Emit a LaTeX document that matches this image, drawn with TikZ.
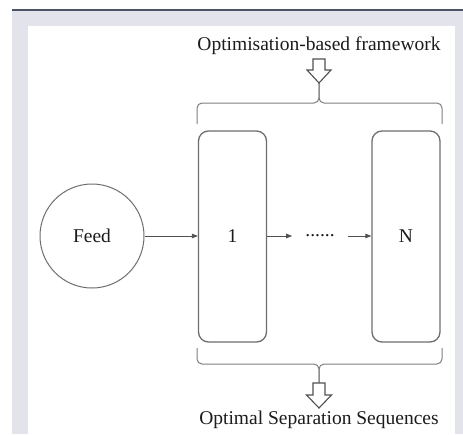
\documentclass[tikz,border=0pt]{standalone}
\usepackage{fontspec}
\setmainfont{Liberation Serif}
\usetikzlibrary{arrows.meta}
\definecolor{bandgray}{HTML}{E3E3EB}
\definecolor{topline}{HTML}{4B5366}
\definecolor{boxgray}{HTML}{6E6E6E}
\definecolor{linegray}{HTML}{505050}
\definecolor{bracegray}{HTML}{7E7E7E}
\definecolor{txt}{HTML}{1C1C1C}
\tikzset{
  lbl/.style={font=\fontsize{19.5}{23}\selectfont, text=txt, inner sep=0pt},
  unitbox/.style={draw=boxgray, line width=1.3pt, rounded corners=10pt, minimum width=68pt, minimum height=211pt, lbl},
  feedcirc/.style={circle, draw=boxgray, line width=1pt, minimum size=104pt, lbl},
  arr/.style={draw=linegray, line width=0.8pt, -{Triangle[length=6pt,width=4.5pt]}},
  bracepath/.style={draw=bracegray, line width=1pt, rounded corners=5pt},
  hollow/.style={draw=linegray, line width=1.1pt, fill=white, line join=miter}
}
\begin{document}
\begin{tikzpicture}[x=1pt,y=-1pt]
\useasboundingbox (0,0) rectangle (463,434);
\fill[white] (0,0) rectangle (463,434);
\fill[bandgray] (12,10) rectangle (463,434);
\fill[white] (28,26) rectangle (455,434);
\draw[topline, line width=1.5pt] (12,10) -- (463,10);

% texts
\node[lbl, anchor=base] (top) at (319,50) {Optimisation-based framework};
\node[lbl, anchor=base] (bot) at (319,424) {Optimal Separation Sequences};

% nodes
\node[feedcirc] (feed) at (92,236) {Feed};
\node[unitbox] (b1) at (232.5,236.5) {1};
\node[unitbox] (bN) at (406,236.5) {N};
\node[lbl, inner xsep=13pt] (dots) at (320,236) {......};

% connectors
\draw[arr] (feed.east) -- (b1.west |- feed.east);
\draw[arr] (b1.east |- dots.west) -- (dots.west);
\draw[arr] (dots.east) -- (bN.west |- dots.east);

% top brace
\draw[bracepath] (197,124) -- (197,103) -- (319,103) -- (319,83);
\draw[bracepath] (442,124) -- (442,103) -- (319,103) -- (319,83);
% bottom brace
\draw[bracepath] (197,348) -- (197,364) -- (319,364) -- (319,383);
\draw[bracepath] (442,348) -- (442,364) -- (319,364) -- (319,383);

% hollow arrows
\draw[hollow] (313,59) -- (325,59) -- (325,70) -- (331,70) -- (319,83) -- (307,70) -- (313,70) -- cycle;
\draw[hollow] (313,383) -- (325,383) -- (325,395) -- (331.5,395) -- (319,408) -- (306.5,395) -- (313,395) -- cycle;
\end{tikzpicture}
\end{document}
